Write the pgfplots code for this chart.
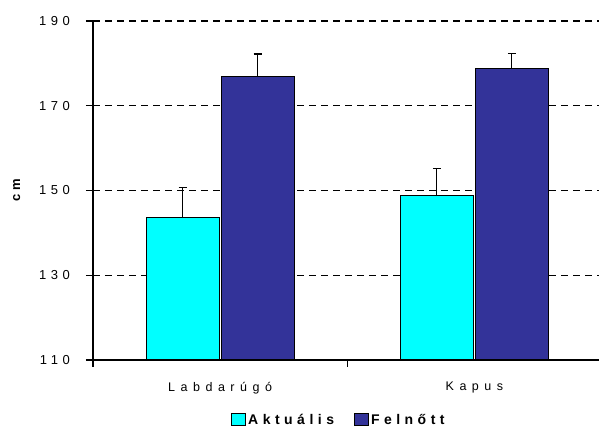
\documentclass[border=0pt]{standalone}
\usepackage{fontspec}
\setmainfont{Liberation Sans}
\newfontfamily\ytickfont[LetterSpace=35]{Liberation Sans}
\newfontfamily\xtickfont[LetterSpace=44]{Liberation Sans}
\newfontfamily\legfont[LetterSpace=32]{Liberation Sans}
\usepackage{pgfplots}
\pgfplotsset{compat=1.18}
\usetikzlibrary{calc}
\definecolor{aqua}{RGB}{0,255,255}
\definecolor{navyb}{RGB}{51,51,153}
\begin{document}
\begin{tikzpicture}
\begin{axis}[
  name=ax,
  scale only axis,
  width=506pt, height=339pt,
  xmin=-0.5, xmax=1.49,
  ymin=110, ymax=190,
  ybar, bar width=73pt,
  axis x line*=bottom, axis y line*=left,
  axis line style={line width=1.1pt, black, -},
  ytick={110,130,150,170,190},
  yticklabels={110,130,150,170,190},
  tick align=outside,
  major tick length=7pt,
  tick style={black, line width=1.1pt},
  xtick={-0.5,0.5},
  xticklabels={},
  extra x ticks={0,1},
  extra x tick labels={Labdarúgó,Kapus},
  extra x tick style={major tick length=0pt, grid=none},
  yticklabel style={font=\ytickfont\fontsize{13}{15}\selectfont, anchor=east, inner sep=0pt, xshift=-16pt},
  xticklabel style={font=\xtickfont\fontsize{12.5}{14}\selectfont, anchor=north, inner sep=0pt, yshift=-22pt},
  ymajorgrids,
  grid style={black, line width=1.1pt, dash pattern=on 7pt off 5pt},
  ylabel={cm},
  ylabel style={at={(axis description cs:-0.151,0.5)}, anchor=center, font=\legfont\bfseries\fontsize{13}{15}\selectfont},
  legend style={at={(axis description cs:0.486,-0.177)}, anchor=center, draw=none, fill=none,
    legend columns=2, font=\legfont\bfseries\fontsize{14}{16}\selectfont,
    /tikz/every even column/.append style={column sep=18pt}},
  legend image code/.code={\draw[#1, draw=black, line width=1pt] (0pt,-5.5pt) rectangle (14pt,6.5pt);},
  error bars/y dir=plus,
  error bars/y explicit,
  error bars/error bar style={black, line width=1.1pt},
  error bars/error mark options={black, line width=1.1pt, mark size=4pt, rotate=90},
]
\addplot[fill=aqua, draw=black, line width=1pt] coordinates {(0,143.6) +- (0,7.1) (1,148.7) +- (0,6.4)};
\addplot[fill=navyb, draw=black, line width=1pt] coordinates {(0,176.8) +- (0,5.4) (1,178.9) +- (0,3.5)};
\legend{Aktuális,Felnőtt}
\end{axis}
\pgfresetboundingbox
\path ($(ax.south west)+(-93pt,-70pt)$) rectangle ($(ax.north east)+(0pt,21pt)$);
\end{tikzpicture}
\end{document}
